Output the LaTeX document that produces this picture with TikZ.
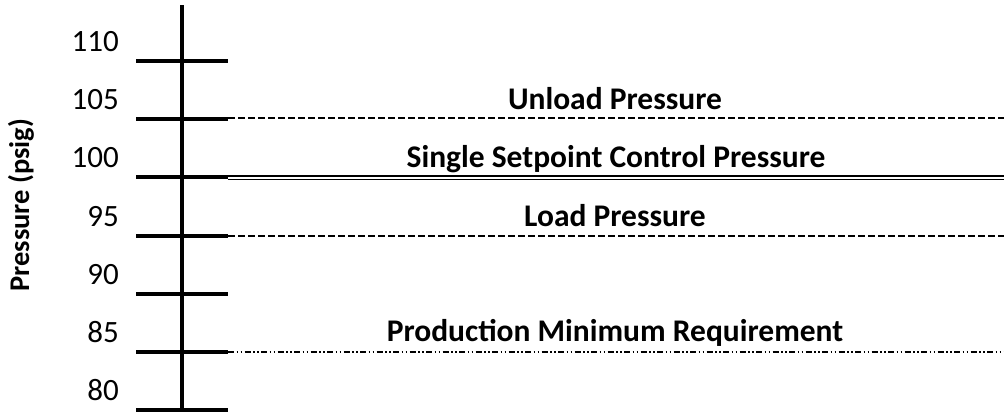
\documentclass[tikz,border=0pt]{standalone}
\usepackage{fontspec}
\setmainfont{Carlito}
\begin{document}
\begin{tikzpicture}[x=1pt,y=-1pt,
  axisline/.style={line width=4pt},
  tickline/.style={line width=4pt},
  ticklabel/.style={anchor=base east, inner sep=0pt, font=\fontsize{31}{31}\selectfont},
  levellabel/.style={anchor=base, inner sep=0pt, font=\bfseries\fontsize{31.5}{31.5}\selectfont},
  dashedlevel/.style={line width=1.8pt, dash pattern=on 7pt off 3pt},
  dashdotdot/.style={line width=1.8pt, dash pattern=on 6pt off 2.5pt on 1.5pt off 2.5pt on 1.5pt off 2.5pt},
  solidlevel/.style={line width=1.3pt}]
\useasboundingbox (0,0) rectangle (1004,413);

% vertical pressure axis
\coordinate (axtop) at (182,5);
\coordinate (axbot) at (182,412);
\draw[axisline] (axtop) -- (axbot);

% ticks and their values
\foreach \v/\y in {110/61,105/119,100/177,95/236,90/294,85/352,80/410}{
  \coordinate (tl\v) at (136,\y);
  \coordinate (tr\v) at (228,\y);
  \draw[tickline] (tl\v) -- (tr\v);
  \node[ticklabel] (lab\v) at (119,\y-10) {\v};
}

% axis title
\node[rotate=90, font=\bfseries\fontsize{28.5}{28.5}\selectfont] (ytitle) at (21,205) {Pressure (psig)};

% right ends of the level lines
\coordinate (re105) at (1004,118);
\coordinate (re95) at (1004,236);
\coordinate (re85) at (1004,352);
\coordinate (l100a) at (228,176);
\coordinate (r100a) at (1004,176);
\coordinate (l100b) at (228,179.2);
\coordinate (r100b) at (1004,179.2);

% pressure levels
\draw[dashedlevel] (228,118) -- (re105);
\draw[solidlevel] (l100a) -- (r100a);
\draw[solidlevel] (l100b) -- (r100b);
\draw[dashedlevel] (228,236) -- (re95);
\draw[dashdotdot] (228,352) -- (re85);

% level names
\node[levellabel] (unload) at (615,109) {Unload Pressure};
\node[levellabel] (setpoint) at (616,167) {Single Setpoint Control Pressure};
\node[levellabel] (load) at (615,226) {Load Pressure};
\node[levellabel] (prodmin) at (615,341) {Production Minimum Requirement};
\end{tikzpicture}
\end{document}
